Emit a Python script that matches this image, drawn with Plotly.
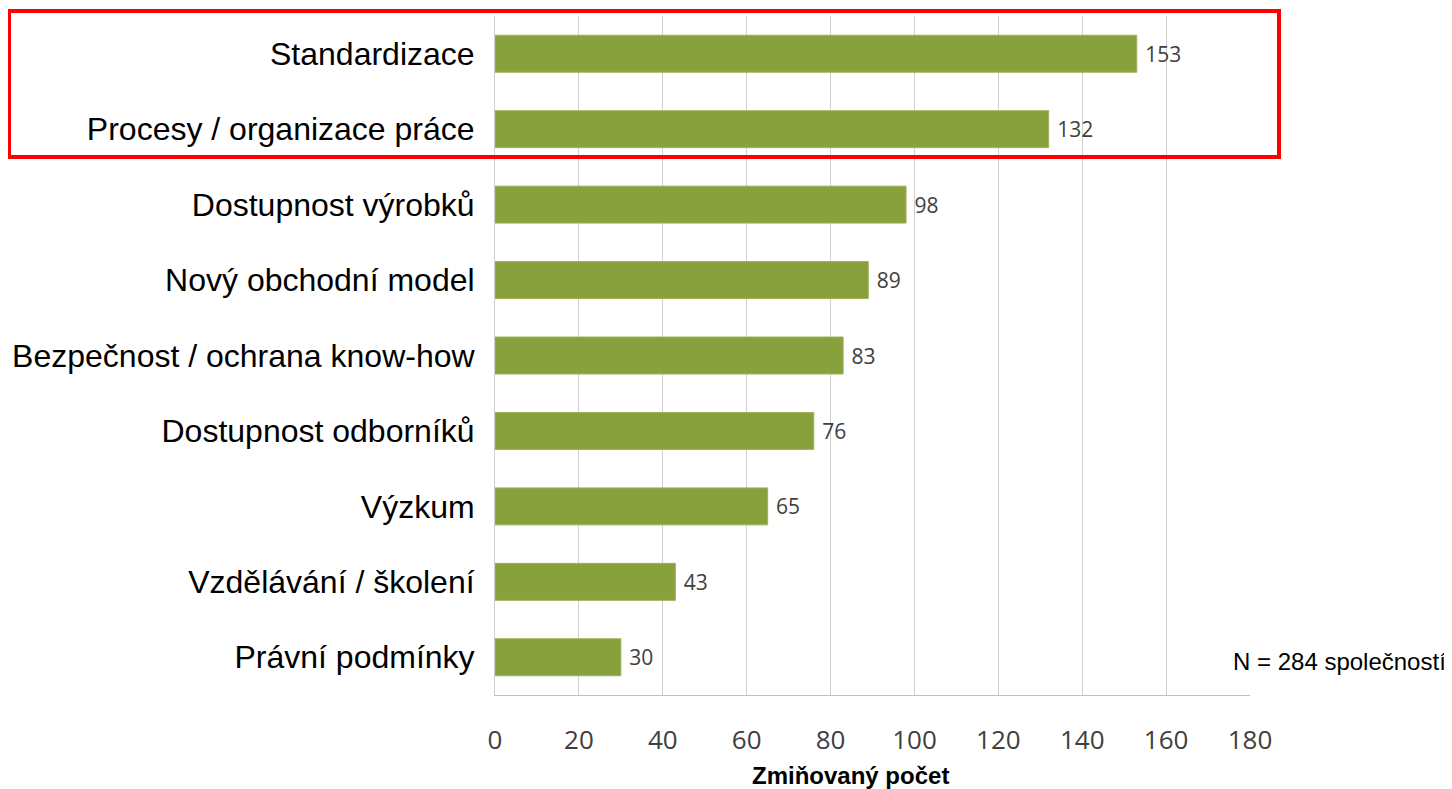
import plotly.graph_objects as go

categories = ["Standardizace", "Procesy / organizace práce", "Dostupnost výrobků",
              "Nový obchodní model", "Bezpečnost / ochrana know-how",
              "Dostupnost odborníků", "Výzkum", "Vzdělávání / školení", "Právní podmínky"]
values = [153, 132, 98, 89, 83, 76, 65, 43, 30]
tick_vals = [0, 20, 40, 60, 80, 100, 120, 140, 160, 180]
x_title = "Zmiňovaný počet"
note = "N = 284 společností"

OFF = 8  # default body margin of the page
W, H = 1452 - OFF, 789 - OFF
PX0, PX1, PY0, PY1 = 495, 1250, 16, 695  # plot area in page pixels
L, T = PX0 - OFF, PY0 - OFF
R, B = W - (PX1 - OFF), H - (PY1 - OFF)
pw, ph = PX1 - PX0, PY1 - PY0

def px_x(p):
    return (p - PX0) / pw

def px_y(p):
    return (PY1 - p) / ph

fig = go.Figure(go.Bar(
    y=categories, x=values, orientation="h",
    marker=dict(color="#88A13C", line=dict(color="#9DB25A", width=1)),
    texttemplate=" %{x}", textposition="outside",
    textfont=dict(family="Open Sans, sans-serif", size=21, color="#404040"),
    cliponaxis=False,
))

fig.update_layout(
    width=W, height=H,
    margin=dict(l=L, r=R, t=T, b=B, autoexpand=False),
    paper_bgcolor="white", plot_bgcolor="white",
    bargap=0.51, showlegend=False,
    xaxis=dict(range=[0, 180], tickvals=tick_vals, showgrid=True, gridcolor="#D0D0D0",
               gridwidth=1, zeroline=False, showline=True, linecolor="#BFBFBF",
               ticks="", ticklabelstandoff=22, automargin=False,
               tickfont=dict(family="Open Sans, sans-serif", size=26, color="#404040")),
    yaxis=dict(categoryorder="array", categoryarray=categories[::-1], autorange=True,
               showline=True, linecolor="#D0D0D0", ticks="", ticklabelstandoff=13,
               automargin=False,
               tickfont=dict(family="Liberation Sans, Arial, sans-serif", size=32, color="black")),
    shapes=[dict(type="rect", xref="paper", yref="paper",
                 x0=px_x(9), x1=px_x(1279), y0=px_y(157), y1=px_y(11),
                 line=dict(color="#FF0000", width=4), fillcolor="rgba(0,0,0,0)")],
    annotations=[
        dict(text=note, xref="paper", yref="paper", x=px_x(1448), y=px_y(661),
             xanchor="right", yanchor="middle", showarrow=False,
             font=dict(family="Liberation Sans, Arial, sans-serif", size=24, color="black")),
        dict(text="<b>" + x_title + "</b>", xref="paper", yref="paper", x=px_x(850), y=px_y(775),
             xanchor="center", yanchor="middle", showarrow=False,
             font=dict(family="Liberation Sans, Arial, sans-serif", size=24, color="black")),
    ],
)

fig.write_html("out.html")
